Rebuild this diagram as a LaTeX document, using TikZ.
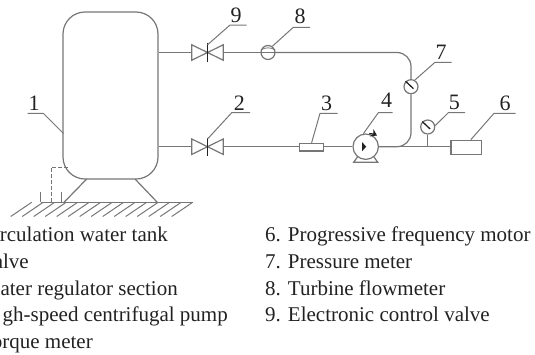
\documentclass[tikz,border=0pt]{standalone}
\usepackage{fontspec}
\setmainfont{Liberation Serif}
\usetikzlibrary{arrows.meta}
\definecolor{pipegray}{HTML}{767676}
\definecolor{inkgray}{HTML}{222222}
\tikzset{
    pipe/.style={draw=pipegray, line width=1.2pt},
    leader/.style={draw=pipegray, line width=1pt},
    valvebox/.style={minimum width=31pt, minimum height=15pt, inner sep=0pt},
    gauge/.style={pipe, circle, minimum size=14pt, inner sep=0pt},
    partbox/.style={pipe, inner sep=0pt},
    tagnum/.style={text=inkgray, font=\fontsize{22}{22}\selectfont},
    legend/.style={text=inkgray, font=\fontsize{21}{21}\selectfont, inner sep=0pt},
}
\begin{document}
\begin{tikzpicture}[x=1pt, y=-1pt, >=stealth]
        \useasboundingbox (0, 0) rectangle (535, 354);
        \node[partbox, rounded corners=22pt, minimum width=95pt, minimum height=167pt] (tank) at (110.5, 95.5) {};
        \coordinate (tankP) at (63.5, 133.5);
        \node[valvebox] (vT) at (207.5, 52.5) {};
        \node[valvebox] (vB) at (207.5, 146.7) {};
        \node[gauge] (g8) at (268, 52.5) {};
        \node[gauge] (g7) at (411, 86.7) {};
        \node[gauge] (g5) at (427.7, 127) {};
        \node[partbox, minimum width=24.5pt, minimum height=7.7pt] (reg) at (311.6, 147.2) {};
        \node[gauge, minimum size=25.4pt] (pump) at (365.7, 146.7) {};
        \node[partbox, minimum width=30.7pt, minimum height=14.4pt] (motor) at (466.3, 147.5) {};
        \coordinate (g1) at (40.7, 202.3);
        \coordinate (g2) at (193.3, 202.3);

        \draw[pipe] (tank.east |- vT) -- (vT.west);
        \draw[pipe] (tank.east |- vB) -- (vB.west);
        \draw[pipe] (vT.east) -- (g8.west);
        \draw[pipe] (vB.east) -- (reg.west |- vB);
        \draw[pipe] (reg.east |- pump) -- (pump.west);
        \draw[pipe] (pump.east) -- (motor.west |- pump);
        \draw[pipe] (g5.south) -- (g5 |- pump);
        \draw[pipe, rounded corners=14pt] (g8.east) -- (g8 -| g7) -- (g7.north);
        \draw[pipe, rounded corners=14pt] (g7.south) -- (g7 |- pump) -- (pump.east);

        \foreach \v in {vT, vB} {
            \draw[pipe] (\v.north west) -- (\v.south east) -- (\v.north east) -- (\v.south west) -- cycle;
            \draw[draw=inkgray, line width=1.2pt] ([yshift=1.5pt]\v.north) -- ([yshift=-1.5pt]\v.south);
        };
        \draw[pipe] (g8.west) -- (g8.east);
        \draw[pipe, line width=0.8pt] (g8.160) to[bend left=30] (g8.20);
        \foreach \g in {g5, g7} {
            \draw[draw=inkgray, line width=1.3pt] (\g.135) -- ([shift={(2.5, 2)}]\g.center);
        };

        \fill[inkgray] ([shift={(-3.5, -4.5)}]pump.center) -- ([shift={(0.5, 0)}]pump.center) -- ([shift={(-3.5, 4.5)}]pump.center) -- cycle;
        \draw[pipe, -{Stealth[length=6pt, width=8pt]}, draw=inkgray] (pump.75) to[bend left=15] (377, 135.5);
        \draw[pipe] ([shift={(-8, 10)}]pump.center) -- ([shift={(-12, 15.5)}]pump.center) -- ([shift={(12, 15.5)}]pump.center) -- ([shift={(8, 10)}]pump.center);

        \draw[pipe] (86.7, 179) -- (64, 202.3);
        \draw[pipe] (135, 179) -- (157.3, 202.3);
        \draw[pipe] (g1) -- (g2);
        \draw[pipe] (40.7, 191.7) -- (g1);
        \draw[pipe] (61.7, 191.7) -- (61.7, 202.3);
        \draw[pipe, dashed, line width=1pt, dash pattern=on 4pt off 2pt] (51, 202.3) -- (51, 167.7) -- (67.7, 167.7);
        \foreach \t in {0, 1, ..., 14} {
            \draw[leader] ({31.7 + 11.5 * \t}, 202.3) -- ({10.7 + 11.5 * \t}, 216.5);
        };

        \foreach \n/\ax/\bx/\y/\lx/\ly in {1/43.3/27.7/113.3/34/103, 2/231.7/250/112.7/239.3/103, 3/320/337.7/113.3/326.7/103,
                4/378.3/392.7/112.7/386.7/100.7, 5/448.3/465/112.7/454.3/102.7, 6/494/515.7/113.3/505/103,
                7/435/451.7/62.3/441/52, 8/293.3/310/27.3/300/16.7, 9/230/246.7/25/236/15} {
            \coordinate (e\n) at (\ax, \y);
            \coordinate (f\n) at (\bx, \y);
            \node[tagnum] (lab\n) at (\lx, \ly) {\n};
        };
        \foreach \from/\n in {tankP/1, vB.north/2, reg.north/3, pump.100/4, g5.10/5, motor.60/6, g7.60/7, g8.55/8, vT.north/9} {
            \draw[leader] (\from) -- (e\n) -- (f\n);
        };

        \node[legend, anchor=base east] (leg1) at (168, 241) {rculation water tank};
        \node[legend, anchor=base east] (leg2) at (29, 268) {alve};
        \node[legend, anchor=base east] (leg3) at (178, 295) {ater regulator section};
        \node[legend, anchor=base east] (leg4) at (228, 321.5) {gh-speed centrifugal pump};
        \node[legend, anchor=base east] (leg5) at (93, 348) {orque meter};
        \node[legend, anchor=base west] (leg6) at (265, 241) {6. Progressive frequency motor};
        \node[legend, anchor=base west] (leg7) at (265, 268) {7. Pressure meter};
        \node[legend, anchor=base west] (leg8) at (265, 295) {8. Turbine flowmeter};
        \node[legend, anchor=base west] (leg9) at (265, 321.5) {9. Electronic control valve};
    \end{tikzpicture}
\end{document}
